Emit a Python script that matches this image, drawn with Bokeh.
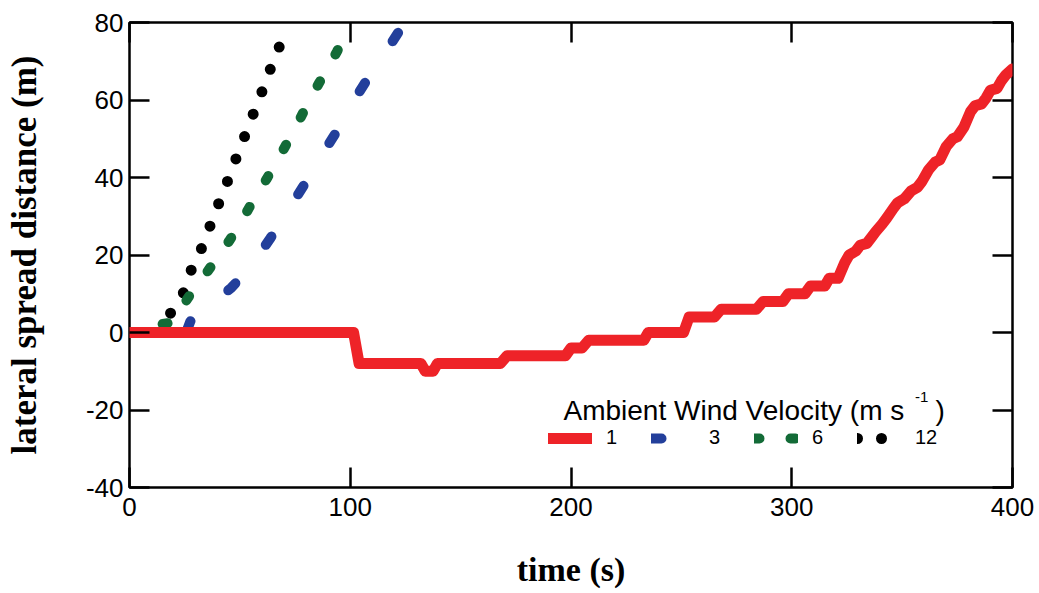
from bokeh.plotting import figure
from bokeh.models import Range1d, LinearAxis, FixedTicker, Legend, LegendItem, Label
from bokeh.embed import file_html
from bokeh.resources import INLINE

# ---- data ----
x_ticks = [0, 100, 200, 300, 400]
y_ticks = [-40, -20, 0, 20, 40, 60, 80]
y_tick_text = {-40: "-40", -20: "-20"}

t_w1 = [0, 100, 101.5, 104, 132, 134, 137.5, 139.5, 168, 171, 197.5, 200, 205, 208,
        233, 235, 251, 253.5, 265, 268, 284, 287, 296, 298.5, 306, 308.5, 315, 317,
        321, 324, 326, 329, 331, 334, 336, 338, 341, 343, 346, 348, 351, 354, 357,
        359, 362, 365, 367, 370, 373, 375, 378, 381, 383, 386, 388, 390, 393, 395,
        397, 400]
v_w1 = [0, 0, 0, -8, -8, -10, -10, -8, -8, -6, -6, -4, -4, -2,
        -2, 0, 0, 4, 4, 6, 6, 8, 8, 10, 10, 12, 12, 14,
        14, 18, 20, 21, 22.5, 23, 24.5, 26, 28, 29.5, 32, 33.5, 34.5, 36.5, 37.5,
        39, 42, 44, 44.5, 48, 50, 50.5, 53, 57, 58.5, 59, 60.5, 62.5, 63, 65,
        66.5, 68]

t_w3 = [26, 27.5, 29.5, 32, 36, 41, 46, 51, 56, 59, 61, 64, 69, 74, 79, 84, 89, 94,
        99, 104, 109, 114, 119, 123]
v_w3 = [0.5, 2.8, 4.3, 4.5, 6, 9, 11.5, 14.5, 18, 21.5, 22, 24.5, 29, 33.5, 38, 42.5,
        47.5, 52, 57, 62, 66.5, 70.5, 75, 78.5]

t_w6 = [15, 19, 22, 26, 30, 35, 40, 45, 49, 53, 57, 62, 66, 70, 74, 78, 82,
        86, 90, 94, 97, 100]
v_w6 = [2.2, 2.5, 4.5, 8.5, 12, 15.5, 19.5, 23.5, 27, 31, 35, 39.5, 43.5, 47.5,
        51.5, 56, 60.5, 64.5, 68.5, 72.5, 76, 80]

t_w12 = [18.6, 25, 28.4, 33.3, 37, 40.9, 45, 48.8, 52.9, 56.8, 60.8, 64.6, 68.7]
v_w12 = [5, 10.8, 16.9, 22.5, 28.3, 34, 39.9, 45.7, 51.7, 57.5, 63.3, 69.2, 74.9]

legend_labels = ["1", "3", "6", "12"]
legend_title = ["Ambient Wind Velocity (m s", "-1", ")"]

# ---- figure ----
p = figure(width=1039, height=593, x_range=Range1d(0, 400), y_range=Range1d(-40, 80),
           output_backend="svg", toolbar_location=None,
           min_border_left=129, min_border_right=27, min_border_top=22,
           min_border_bottom=106)
p.grid.visible = False
p.outline_line_color = "black"
p.outline_line_width = 2.5
p.background_fill_color = "white"
p.border_fill_color = "white"

for ax in (p.xaxis[0], p.yaxis[0]):
    ax.axis_line_color = None
    ax.major_tick_in = 20
    ax.major_tick_out = 0
    ax.major_tick_line_width = 2.5
    ax.major_tick_line_color = "black"
    ax.minor_tick_line_color = None
    ax.major_label_text_font = "Liberation Sans"
    ax.major_label_text_font_size = "26px"
    ax.major_label_text_color = "black"
    ax.axis_label_text_font = "Liberation Serif"
    ax.axis_label_text_font_style = "bold"
    ax.axis_label_text_color = "black"

p.xaxis[0].ticker = FixedTicker(ticks=x_ticks)
p.yaxis[0].ticker = FixedTicker(ticks=y_ticks)
p.yaxis[0].major_label_overrides = y_tick_text
p.xaxis[0].axis_label = "time (s)"
p.yaxis[0].axis_label = "lateral spread distance (m)"
p.xaxis[0].axis_label_text_font_size = "34px"
p.yaxis[0].axis_label_text_font_size = "35px"
p.xaxis[0].major_label_standoff = 10
p.yaxis[0].major_label_standoff = 6
p.xaxis[0].axis_label_standoff = 32
p.yaxis[0].axis_label_standoff = 39

for loc, ticks in (("right", y_ticks), ("above", x_ticks)):
    ax = LinearAxis(ticker=FixedTicker(ticks=ticks), major_label_text_color=None,
                    major_label_text_font_size="10px",
                    major_label_standoff=0, major_tick_in=20, major_tick_out=0,
                    major_tick_line_width=2.5, axis_line_color=None,
                    minor_tick_line_color=None)
    p.add_layout(ax, loc)

r12 = p.line(t_w12, v_w12, line_color="black", line_width=11, line_dash="0 24",
             line_cap="round", line_join="round")
r6 = p.line(t_w6, v_w6, line_color="#136b37", line_width=10, line_dash="5 31",
            line_cap="round", line_join="round")
r3 = p.line(t_w3, v_w3, line_color="#233f9b", line_width=10, line_dash="10 50",
            line_cap="round", line_join="round")
r1 = p.line(t_w1, v_w1, line_color="#ee2328", line_width=11,
            line_cap="round", line_join="round")

legend = Legend(items=[LegendItem(label=legend_labels[0], renderers=[r1]),
                       LegendItem(label=legend_labels[1], renderers=[r3]),
                       LegendItem(label=legend_labels[2], renderers=[r6]),
                       LegendItem(label=legend_labels[3], renderers=[r12])],
                orientation="horizontal", location=(419, 38),
                glyph_width=44, glyph_height=20, label_standoff=14, spacing=25,
                label_width=20, padding=0, margin=0,
                label_text_font="Liberation Sans", label_text_font_size="20px",
                label_text_color="black",
                border_line_color=None, background_fill_alpha=0)
p.add_layout(legend, "center")

p.add_layout(Label(x=196.6, y=-20, text=legend_title[0], text_font="Liberation Sans",
                   text_font_size="28px", text_color="black",
                   text_baseline="alphabetic"))
p.add_layout(Label(x=355.8, y=-16.6, text=legend_title[1], text_font="Liberation Sans",
                   text_font_size="15px", text_color="black",
                   text_baseline="alphabetic"))
p.add_layout(Label(x=365.1, y=-20, text=legend_title[2], text_font="Liberation Sans",
                   text_font_size="28px", text_color="black",
                   text_baseline="alphabetic"))

open("out.html", "w").write(file_html(p, INLINE))
